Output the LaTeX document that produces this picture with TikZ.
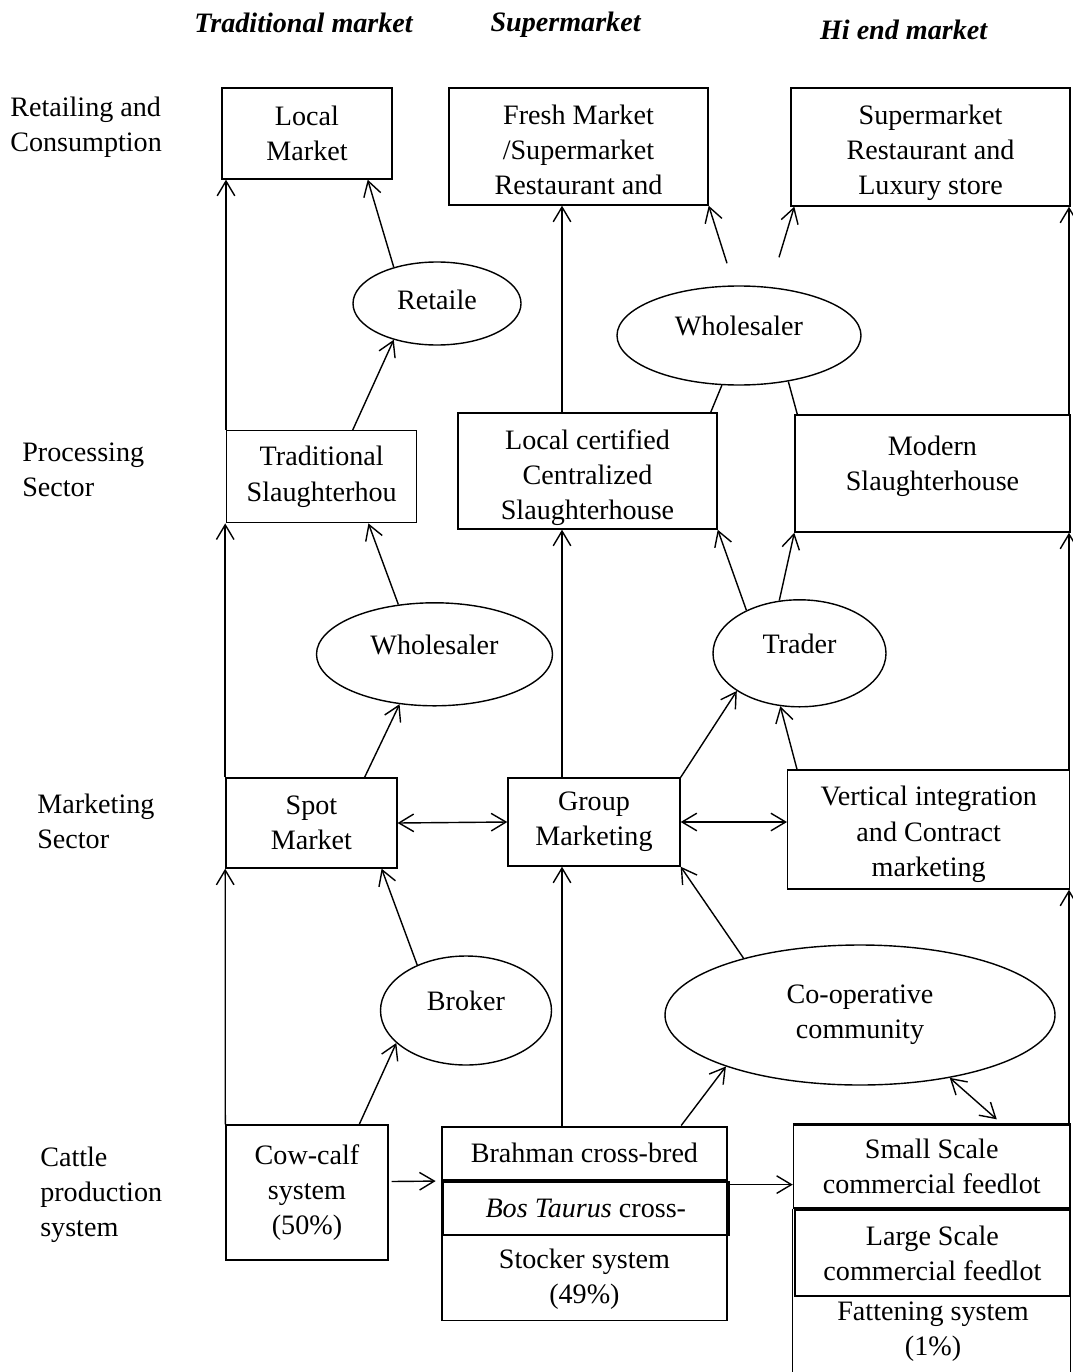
\documentclass[tikz,border=0pt]{standalone}
\usepackage{fontspec}
\setmainfont{Liberation Serif}
\usepackage{tikz}
\usetikzlibrary{calc,shapes.geometric,arrows.meta}
\tikzset{>={Straight Barb[length=10.5pt,width=12.5pt]}}
\newcommand{\diagfont}{\fontsize{20pt}{25pt}\selectfont}
\tikzset{
  sz/.style 2 args={minimum width=#1*0.025cm, minimum height=#2*0.025cm},
  box/.style={draw, rectangle, line width=1pt, align=center, inner sep=0pt},
  oval/.style={draw, ellipse, line width=1pt, align=center, inner sep=0pt},
  lift/.style={text height=14pt, text depth=14pt},
  txt/.style={align=center, inner sep=0pt},
  side/.style={align=left, anchor=west, inner sep=0pt},
  head/.style={font=\diagfont\bfseries\itshape, anchor=base, inner sep=0pt},
  link/.style={line width=1pt},
}

\begin{document}
\begin{tikzpicture}[x=0.025cm, y=-0.025cm, font=\diagfont]
            \useasboundingbox (0,0) rectangle (1072,1372);
            \coordinate (bottom) at (0,1372);
            \coordinate (colS) at (562,0);
            \coordinate (colR) at (1069,0);

            % Market headings
            \node[head] (hdtrad) at (303.5,33) {Traditional market};
            \node[head] (hdsup) at (565.6,32) {Supermarket};
            \node[head] (hdhi) at (903.6,40) {Hi end market};

            % Sector labels
            \node[side] (lbret) at (10,127.5) {Retailing and\\Consumption};
            \node[side] (lbproc) at (22,469.5) {Processing\\Sector};
            \node[side] (lbmark) at (37,821.5) {Marketing\\Sector};
            \node[side] (lbcat) at (40,1195) {Cattle\\production\\system};

            % Retailing and consumption
            \node[box, sz={170}{91}] (lm) at (307,133.5) {Local\\Market};
            \node[box, sz={259}{117}, text height=68.5pt] (fm) at (578.5,146.5) {Fresh Market\\/Supermarket\\Restaurant and};
            \node[box, sz={279}{118}, text height=72.3pt] (sm) at (930.5,147) {Supermarket\\Restaurant and\\Luxury store};
            \node[oval, sz={168}{83}, text depth=6pt] (rt) at (437,303.5) {Retaile};
            \node[oval, lift, sz={244}{99}] (ws1) at (739,335.5) {Wholesaler};

            % Processing sector
            \node[box, sz={190}{92}] (ts) at (321.7,476.7) {Traditional\\Slaughterhou};
            \node[box, sz={259}{116}, text height=73.2pt] (lc) at (587.5,471) {Local certified\\Centralized\\Slaughterhouse};
            \node[box, sz={275}{117}, text depth=15pt] (ms) at (932.5,473.5) {Modern\\Slaughterhouse};
            \node[oval, lift, sz={236}{103}] (ws2) at (434.5,654.3) {Wholesaler};
            \node[oval, lift, sz={173}{107}] (tr) at (799.5,653.3) {Trader};

            % Marketing sector
            \node[box, sz={171}{90}] (sp) at (311.4,823) {Spot\\Market};
            \node[box, sz={172}{88}] (gm) at (594,822) {Group\\Marketing};
            \node[box, sz={282}{119}, text height=70.8pt] (vi) at (928.7,829.5) {Vertical integration\\and Contract\\marketing};
            \node[oval, lift, sz={171}{109}] (bk) at (466,1010.5) {Broker};
            \node[oval, sz={390}{140}] (co) at (860,1015) {Co-operative\\community};

            % Cattle production system
            \node[box, sz={162}{135}] (cc) at (307,1192.5) {Cow-calf\\system\\(50\%)};
            \node[box, sz={285}{194}] (st) at (584.4,1223.7) {};
            \node[box, line width=1.8pt, sz={285}{53}] (br) at (584.4,1153.3) {Brahman cross-bred};
            \node[box, line width=1.5pt, sz={285.6}{53.3}] (bt) at (585.8,1208.3) {\textit{Bos Taurus} cross-};
            \node[txt] (sttxt) at (584.4,1279) {Stocker system\\(49\%)};
            \node[box, sz={276.5}{83}] (ss) at (931.7,1166.5) {Small Scale\\commercial feedlot};
            \node[box, sz={275}{86}] (ls) at (932.4,1253) {Large Scale\\commercial feedlot};
            \node[txt] (fttxt) at (933,1332) {Fattening system\\(1\%)};
            \draw[link] (ss.south west) -- (ss.south west |- bottom); % open feedlot box
            \draw[link] (ss.south east) -- (ss.south east |- bottom);
            \draw[line width=1.8pt] (ss.north west) -- (ss.north east); % thick top edge

            % Traditional market chain
            \draw[link,->] (cc.north west) -- (sp.south west);
            \draw[link,->] (sp.north west) -- (sp.north west |- ts.south);
            \draw[link,->] (ts.north west) -- (ts.north west |- lm.south);
            \draw[link,->] ($(cc.north west)+(134,0)$) -- (bk.205);
            \draw[link,->] (bk.137) -- ($(sp.south east)+(-16,0)$);
            \draw[link,->] ($(sp.north east)+(-33,0)$) -- (ws2.235);
            \draw[link,->] (ws2.126) -- ($(ts.south east)+(-49,0)$);
            \draw[link,->] ($(ts.north)+(31,0)$) -- (rt.220);
            \draw[link,->] (rt.140) -- ($(lm.south east)+(-25,0)$);

            % Supermarket chain
            \draw[link,->] (colS |- br.north) -- (colS |- gm.south);
            \draw[link,->] (colS |- gm.north) -- (colS |- lc.south);
            \draw[link,->] (colS |- lc.north) -- (colS |- fm.south);

            % Hi end market chain
            \draw[link,->] (colR |- ss.north) -- (colR |- vi.south);
            \draw[link,->] (colR |- vi.north) -- (colR |- ms.south);
            \draw[link,->] (colR |- ms.north) -- (colR |- sm.south);

            % Production links
            \coordinate (stout) at ($(bt.north east)+(0,4)$);
            \draw[link,->] ($(cc.east)+(3,-11)$) -- ($(br.south west)+(-5,0)$);
            \draw[link,->] (stout) -- (stout -| ss.west);
            \draw[link,->] ($(br.north east)+(-47,0)$) -- (co.201);
            \draw[link,->] (co.154) -- (gm.south east);
            \draw[link,<->] (co.325) -- ($(ss.north west)+(204,-5)$);

            % Marketing links
            \draw[link,<->] (sp.east) -- (gm.west);
            \draw[link,<->] (gm.east) -- (gm.east -| vi.west);
            \draw[link,->] (gm.north east) -- (tr.211);
            \draw[link,->] ($(vi.north west)+(10,0)$) -- (tr.250);
            \draw[link,->] (tr.141) -- (lc.south east);
            \draw[link,->] (tr.111) -- (ms.south west);

            % Wholesaler links
            \draw[link] ($(lc.north east)+(-7,0)$) -- (ws1.251);
            \draw[link] ($(ms.north west)+(3,0)$) -- (ws1.317);
            \draw[link,->] ($(ws1.north)+(-12,-22)$) -- (fm.south east);
            \draw[link,->] ($(ws1.north)+(40,-28)$) -- ($(sm.south west)+(4,0)$);
          \end{tikzpicture}
\end{document}
